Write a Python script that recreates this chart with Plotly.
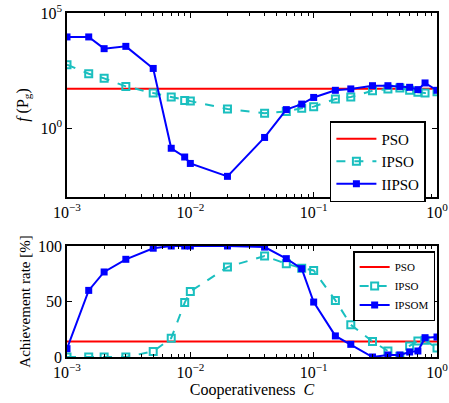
import plotly.graph_objects as go

C = [0.001, 0.0015, 0.002, 0.003, 0.005, 0.007, 0.009, 0.01, 0.02, 0.04, 0.06, 0.08,
     0.1, 0.15, 0.2, 0.3, 0.4, 0.5, 0.6, 0.7, 0.8, 1.0]

# top panel: log10 of f(Pg)
pso_top = 10 ** 1.71
ipso_top_log = [2.75, 2.36, 2.16, 1.81, 1.52, 1.35, 1.20, 1.17, 0.83, 0.64, 0.72, 0.86,
                0.93, 1.26, 1.35, 1.62, 1.70, 1.74, 1.64, 1.55, 1.52, 1.58]
iipso_top_log = [3.96, 3.96, 3.45, 3.55, 2.59, -0.88, -1.26, -1.54, -2.10, -0.41, 0.80, 1.04,
                 1.33, 1.64, 1.70, 1.84, 1.84, 1.81, 1.77, 1.67, 1.96, 1.64]
ipso_top = [10 ** v for v in ipso_top_log]
iipso_top = [10 ** v for v in iipso_top_log]

# bottom panel: achievement rate [%]
pso_bot = 14
ipso_bot = [0, 0, 0, 0, 5, 17, 49, 59, 81, 91, 84, 80, 78, 51, 29, 14, 5.4, 0.6, 10, 14.4, 15, 8]
ipsom_bot = [7.5, 60, 76.6, 88, 98, 100, 100, 100, 100, 99, 88.6, 79.6, 49.5, 19, 11.4, 0,
             1.8, 1.8, 4.5, 5.4, 17.4, 18]

RED = "#ff0000"
CYAN = "#1abfbf"
BLUE = "#0000ff"
FONT = "Liberation Serif, Times New Roman, serif"

fig = go.Figure()
xr = [C[0], C[-1]]
fig.add_trace(go.Scatter(x=xr, y=[pso_top, pso_top], mode="lines", name="PSO",
                         line=dict(color=RED, width=2), xaxis="x", yaxis="y", legend="legend"))
fig.add_trace(go.Scatter(x=C, y=ipso_top, mode="lines+markers", name="IPSO",
                         line=dict(color=CYAN, width=2, dash="dash"),
                         marker=dict(symbol="square-open", size=7, color=CYAN, line=dict(width=2)),
                         xaxis="x", yaxis="y", legend="legend"))
fig.add_trace(go.Scatter(x=C, y=iipso_top, mode="lines+markers", name="IIPSO",
                         line=dict(color=BLUE, width=2),
                         marker=dict(symbol="square", size=7, color=BLUE),
                         xaxis="x", yaxis="y", legend="legend"))

fig.add_trace(go.Scatter(x=xr, y=[pso_bot, pso_bot], mode="lines", name="PSO",
                         line=dict(color=RED, width=2), xaxis="x2", yaxis="y2", legend="legend2"))
fig.add_trace(go.Scatter(x=C, y=ipso_bot, mode="lines+markers", name="IPSO",
                         line=dict(color=CYAN, width=2, dash="dash"),
                         marker=dict(symbol="square-open", size=7, color=CYAN, line=dict(width=2)),
                         xaxis="x2", yaxis="y2", legend="legend2"))
fig.add_trace(go.Scatter(x=C, y=ipsom_bot, mode="lines+markers", name="IPSOM",
                         line=dict(color=BLUE, width=2),
                         marker=dict(symbol="square", size=7, color=BLUE),
                         xaxis="x2", yaxis="y2", legend="legend2"))

xtickvals = [0.001, 0.01, 0.1, 1]
xticktext = ["10<sup>−3</sup>", "10<sup>−2</sup>", "10<sup>−1</sup>", "10<sup>0</sup>"]

common = dict(showline=True, linecolor="black", linewidth=1.5, mirror="allticks",
              ticks="inside", ticklen=5, tickcolor="black", showgrid=False, zeroline=False,
              automargin=False, ticklabeloverflow="allow",
              tickfont=dict(family=FONT, size=16, color="black"))

xaxis_common = dict(type="log", range=[-3, 0], tickvals=xtickvals, ticktext=xticktext,
                    minor=dict(ticks="inside", ticklen=3, tickcolor="black",
                               tickvals=[k * 10 ** e for e in (-3, -2, -1) for k in range(2, 10)]),
                    **common)

fig.update_layout(
    width=449, height=403,
    margin=dict(l=67, r=12, t=13, b=46, autoexpand=False),
    paper_bgcolor="white", plot_bgcolor="white",
    font=dict(family=FONT, size=14, color="black"),
    showlegend=True,
    xaxis=dict(domain=[0, 1], anchor="y", **xaxis_common),
    yaxis=dict(domain=[0.465, 1], anchor="x", type="log", range=[-3, 5],
               tickvals=[1, 1e5], ticktext=["10<sup>0</sup>", "10<sup>5</sup>"],
               title=dict(text="<i>f</i> (P<sub>g</sub>)", font=dict(family=FONT, size=16), standoff=8),
               **common),
    xaxis2=dict(domain=[0, 1], anchor="y2",
                title=dict(text="Cooperativeness  <i>C</i>", font=dict(family=FONT, size=16), standoff=2),
                **xaxis_common),
    yaxis2=dict(domain=[0, 0.3227], anchor="x2", range=[0, 100], tickvals=[0, 50, 100],
                title=dict(text="Achievement rate [%]", font=dict(family=FONT, size=15), standoff=4),
                **common),
    legend=dict(x=0.97, y=0.686, xanchor="right", yanchor="top",
                bordercolor="black", borderwidth=1.5, bgcolor="white",
                font=dict(family=FONT, size=15), tracegroupgap=0, itemwidth=40),
    legend2=dict(x=0.995, y=0.308, xanchor="right", yanchor="top",
                 bordercolor="black", borderwidth=1.5, bgcolor="white",
                 font=dict(family=FONT, size=11), tracegroupgap=0, itemwidth=30),
)

fig.write_html("out.html", config={"displayModeBar": False},
               post_script="document.body.style.margin='0';"
                           "document.body.style.overflow='hidden';"
                           "document.documentElement.style.overflow='hidden';")
